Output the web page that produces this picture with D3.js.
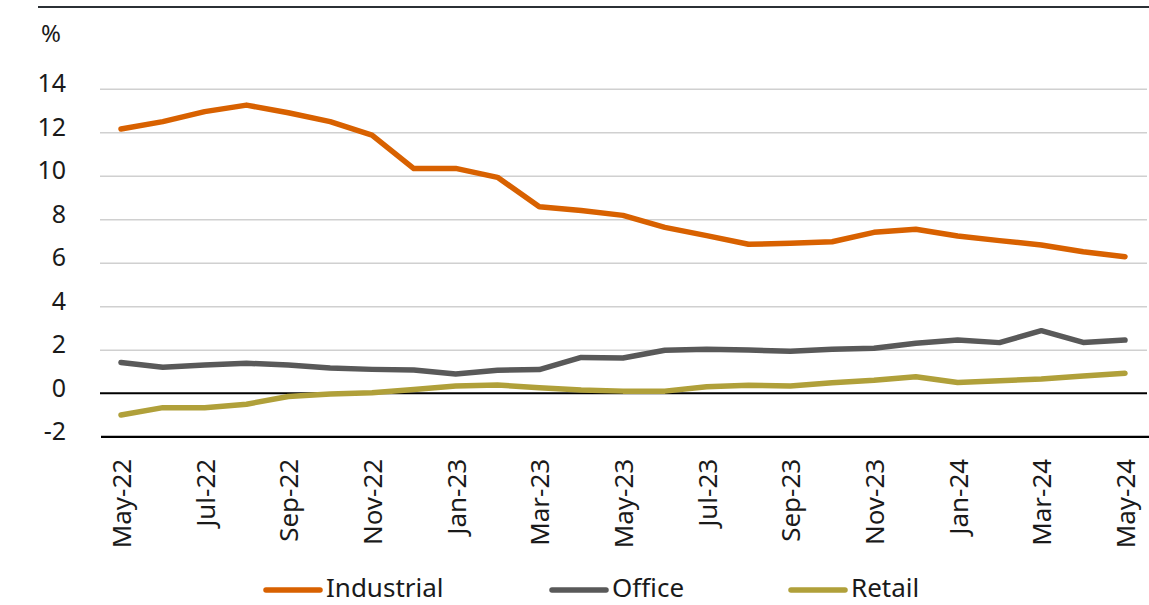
<!DOCTYPE html>
<html><head><meta charset="utf-8">
<script src="https://cdn.jsdelivr.net/npm/d3@7"></script>
<style>
html,body{margin:0;padding:0;background:#fff;}
svg text{font-family:"Noto Sans","Open Sans",sans-serif;fill:#1a1a1a;}
</style></head>
<body><svg id="c" width="1149" height="605"></svg>
<script>
const months = ["May-22","Jun-22","Jul-22","Aug-22","Sep-22","Oct-22","Nov-22","Dec-22","Jan-23","Feb-23","Mar-23","Apr-23","May-23","Jun-23","Jul-23","Aug-23","Sep-23","Oct-23","Nov-23","Dec-23","Jan-24","Feb-24","Mar-24","Apr-24","May-24"];
const industrial = [12.15,12.49,12.95,13.25,12.9,12.49,11.87,10.33,10.34,9.93,8.58,8.4,8.18,7.63,7.25,6.85,6.9,6.97,7.4,7.54,7.23,7.02,6.82,6.51,6.28];
const office = [1.42,1.2,1.3,1.38,1.3,1.16,1.1,1.07,0.89,1.06,1.09,1.65,1.62,1.98,2.02,1.99,1.93,2.02,2.07,2.3,2.45,2.33,2.88,2.34,2.45];
const retail = [-1.0,-0.66,-0.66,-0.5,-0.15,-0.03,0.03,0.18,0.34,0.38,0.26,0.15,0.1,0.1,0.3,0.37,0.34,0.49,0.6,0.76,0.5,0.58,0.66,0.8,0.92];
const yTicks = [-2,0,2,4,6,8,10,12,14];
const xTickLabels = months.filter((m,i)=>i%2===0);
const seriesNames = ["Industrial","Office","Retail"];
const seriesColors = ["#D86100","#595959","#B0A03A"];

const svg = d3.select("#c");
const plotL = 100, plotR = 1147;
const x = d3.scalePoint().domain(months).range([121,1125]);
const y = d3.scaleLinear().domain([-2,14]).range([436.8,88.8]);

// top rule
svg.append("line").attr("x1",38).attr("x2",1149).attr("y1",7).attr("y2",7)
  .attr("stroke","#2b3035").attr("stroke-width",2);

// % label
svg.append("text").attr("x",41).attr("y",42).attr("font-size",24).text("%");

// gridlines
const grid = svg.append("g").attr("transform",`translate(${plotL},0)`)
  .call(d3.axisLeft(y).tickValues(yTicks.filter(v=>v>0)).tickSize(-(plotR-plotL)).tickFormat(""));
grid.select(".domain").remove();
grid.selectAll("line").attr("stroke","#d0d0d0").attr("stroke-width",1.5);

// y labels
const ya = svg.append("g").attr("transform","translate(66,-5)")
  .call(d3.axisLeft(y).tickValues(yTicks).tickSize(0).tickPadding(0).tickFormat(d=>d));
ya.select(".domain").remove();
ya.selectAll("text").attr("font-size",25).attr("font-family","Noto Sans").attr("fill","#1a1a1a");

// zero line and bottom axis line
svg.append("line").attr("x1",plotL).attr("x2",plotR).attr("y1",y(0)).attr("y2",y(0))
  .attr("stroke","#000").attr("stroke-width",2);
svg.append("line").attr("x1",plotL+1).attr("x2",1149).attr("y1",y(-2)).attr("y2",y(-2))
  .attr("stroke","#000").attr("stroke-width",2.2);

// x labels
const xa = svg.append("g").attr("transform",`translate(0,${y(-2)})`)
  .call(d3.axisBottom(x).tickValues(xTickLabels).tickSize(0).tickPadding(0));
xa.select(".domain").remove();
xa.selectAll("text")
  .attr("font-size",26).attr("font-family","Noto Sans").attr("fill","#1a1a1a")
  .attr("transform","rotate(-90)")
  .attr("text-anchor","end")
  .attr("x",-22).attr("y",0).attr("dy","0.36em");

// lines
const line = d3.line().x((d,i)=>x(months[i])).y(d=>y(d));
[retail,office,industrial].forEach((data,k)=>{
  const idx = 2-k;
  svg.append("path").datum(data).attr("d",line)
    .attr("fill","none").attr("stroke",seriesColors[idx]).attr("stroke-width",5.5)
    .attr("stroke-linejoin","round").attr("stroke-linecap","round");
});

// legend
const legX = [266,552,791];
seriesNames.forEach((n,i)=>{
  const g = svg.append("g").attr("transform",`translate(${legX[i]},590)`);
  g.append("line").attr("x1",0).attr("x2",54).attr("y1",0).attr("y2",0)
    .attr("stroke",seriesColors[i]).attr("stroke-width",5.5).attr("stroke-linecap","round");
  g.append("text").attr("x",60).attr("y",7).attr("font-size",26).text(n);
});
</script></body></html>
